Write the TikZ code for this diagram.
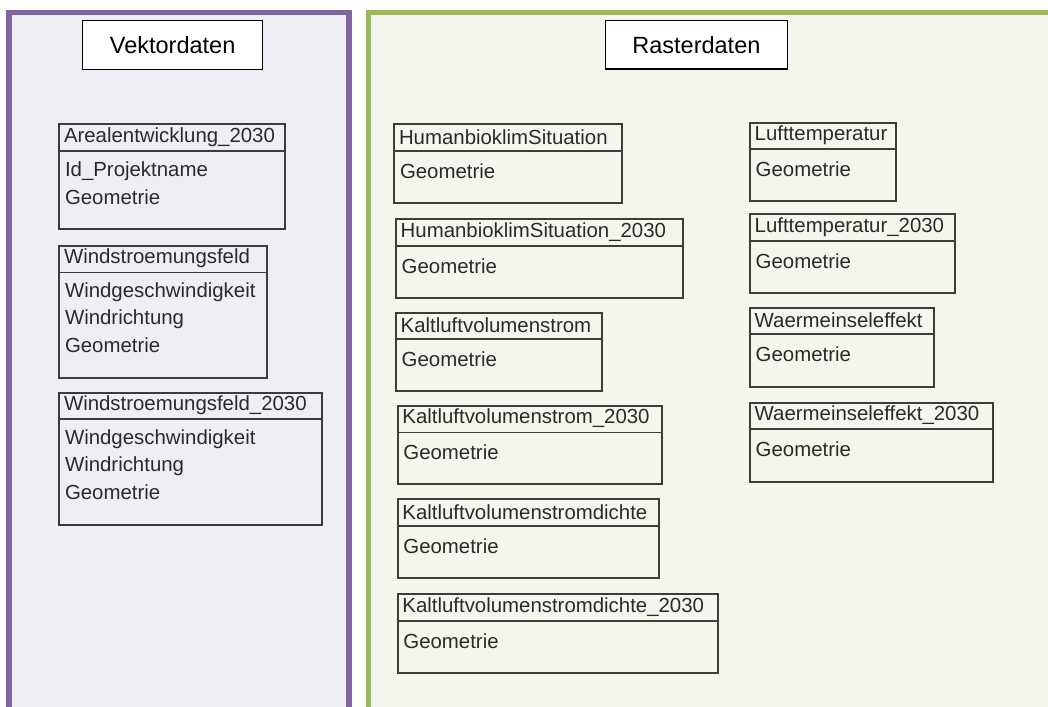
\documentclass[tikz,border=0pt]{standalone}
\usepackage{fontspec}
\setmainfont{Liberation Sans}
\definecolor{vpurple}{HTML}{8064A2}
\definecolor{vfill}{HTML}{F0EEF5}
\definecolor{rgreen}{HTML}{9BBB59}
\definecolor{rfill}{HTML}{F4F6EE}
\definecolor{boxline}{HTML}{3C3C3C}
\definecolor{boxtext}{HTML}{2A2A2A}
\tikzset{
  cbox/.style={draw=boxline, line width=1.8pt, inner sep=0pt, rectangle},
  ctext/.style={text=boxtext, inner sep=0pt, font=\fontsize{20.4}{23}\selectfont},
  lbox/.style={draw=black, fill=white, line width=1.3pt, inner sep=0pt, rectangle,
     font=\fontsize{23.5}{26}\selectfont},
}
\newcommand\umlbox[6]{%
  \node[cbox, minimum width=#4pt, minimum height=#5pt, anchor=north west] (#1) at (#2,#3) {};
  \draw[cbox] ([yshift=-27.4pt]#1.north west) -- ([yshift=-27.4pt]#1.north east);
  \node[ctext, anchor=west] (#1-t) at ([xshift=5.5pt,yshift=-13.6pt]#1.north west) {#6};
}
\newcommand\umlline[3]{%
  \node[ctext, anchor=west] (#1-#2) at ([xshift=6.5pt,yshift={-47.5pt-26.6pt*(#2-1)}]#1.north west) {#3};
}
\begin{document}
\begin{tikzpicture}[x=1pt,y=-1pt]
\useasboundingbox (0,0) rectangle (1048,706);
\clip (0,0) rectangle (1048,706);
\fill[white] (0,0) rectangle (1048,706);
% panels
\draw[vpurple, fill=vfill, line width=5.7pt] (9,12.6) rectangle (348.8,740);
\draw[rgreen, fill=rfill, line width=5.5pt] (368.4,12.6) rectangle (1080,740);
% panel labels
\node[lbox, minimum width=180pt, minimum height=49pt, anchor=north west] (vek) at (82,20) {Vektordaten};
\node[lbox, minimum width=181.5pt, minimum height=48.5pt, anchor=north west] (ras) at (605,20) {Rasterdaten};
% Vektordaten classes
\umlbox{a1}{58.3}{123.3}{226}{105}{Arealentwicklung\_2030}
\umlline{a1}{1}{Id\_Projektname}
\umlline{a1}{2}{Geometrie}
\umlbox{a2}{58.3}{245}{207.7}{131.7}{Windstroemungsfeld}
\umlline{a2}{1}{Windgeschwindigkeit}
\umlline{a2}{2}{Windrichtung}
\umlline{a2}{3}{Geometrie}
\umlbox{a3}{58.3}{391.7}{262.7}{132.6}{Windstroemungsfeld\_2030}
\umlline{a3}{1}{Windgeschwindigkeit}
\umlline{a3}{2}{Windrichtung}
\umlline{a3}{3}{Geometrie}
% Rasterdaten column 1
\umlbox{b1}{393.3}{123.3}{227.7}{78.4}{HumanbioklimSituation}
\umlline{b1}{1}{Geometrie}
\umlbox{b2}{395}{218.3}{286.7}{78.4}{HumanbioklimSituation\_2030}
\umlline{b2}{1}{Geometrie}
\umlbox{b3}{395}{311.7}{206}{78.3}{Kaltluftvolumenstrom}
\umlline{b3}{1}{Geometrie}
\umlbox{b4}{396.7}{405}{264.3}{78.3}{Kaltluftvolumenstrom\_2030}
\umlline{b4}{1}{Geometrie}
\umlbox{b5}{396.7}{498.3}{261}{78.4}{Kaltluftvolumenstromdichte}
\umlline{b5}{1}{Geometrie}
\umlbox{b6}{396.7}{593.3}{320}{79}{Kaltluftvolumenstromdichte\_2030}
\umlline{b6}{1}{Geometrie}
% Rasterdaten column 2
\umlbox{c1}{749}{121.7}{146}{78.3}{Lufttemperatur}
\umlline{c1}{1}{Geometrie}
\umlbox{c2}{749}{213.3}{205}{79}{Lufttemperatur\_2030}
\umlline{c2}{1}{Geometrie}
\umlbox{c3}{749}{306.7}{184.3}{79.3}{Waermeinseleffekt}
\umlline{c3}{1}{Geometrie}
\umlbox{c4}{749}{401.7}{243.3}{79}{Waermeinseleffekt\_2030}
\umlline{c4}{1}{Geometrie}
\end{tikzpicture}
\end{document}
